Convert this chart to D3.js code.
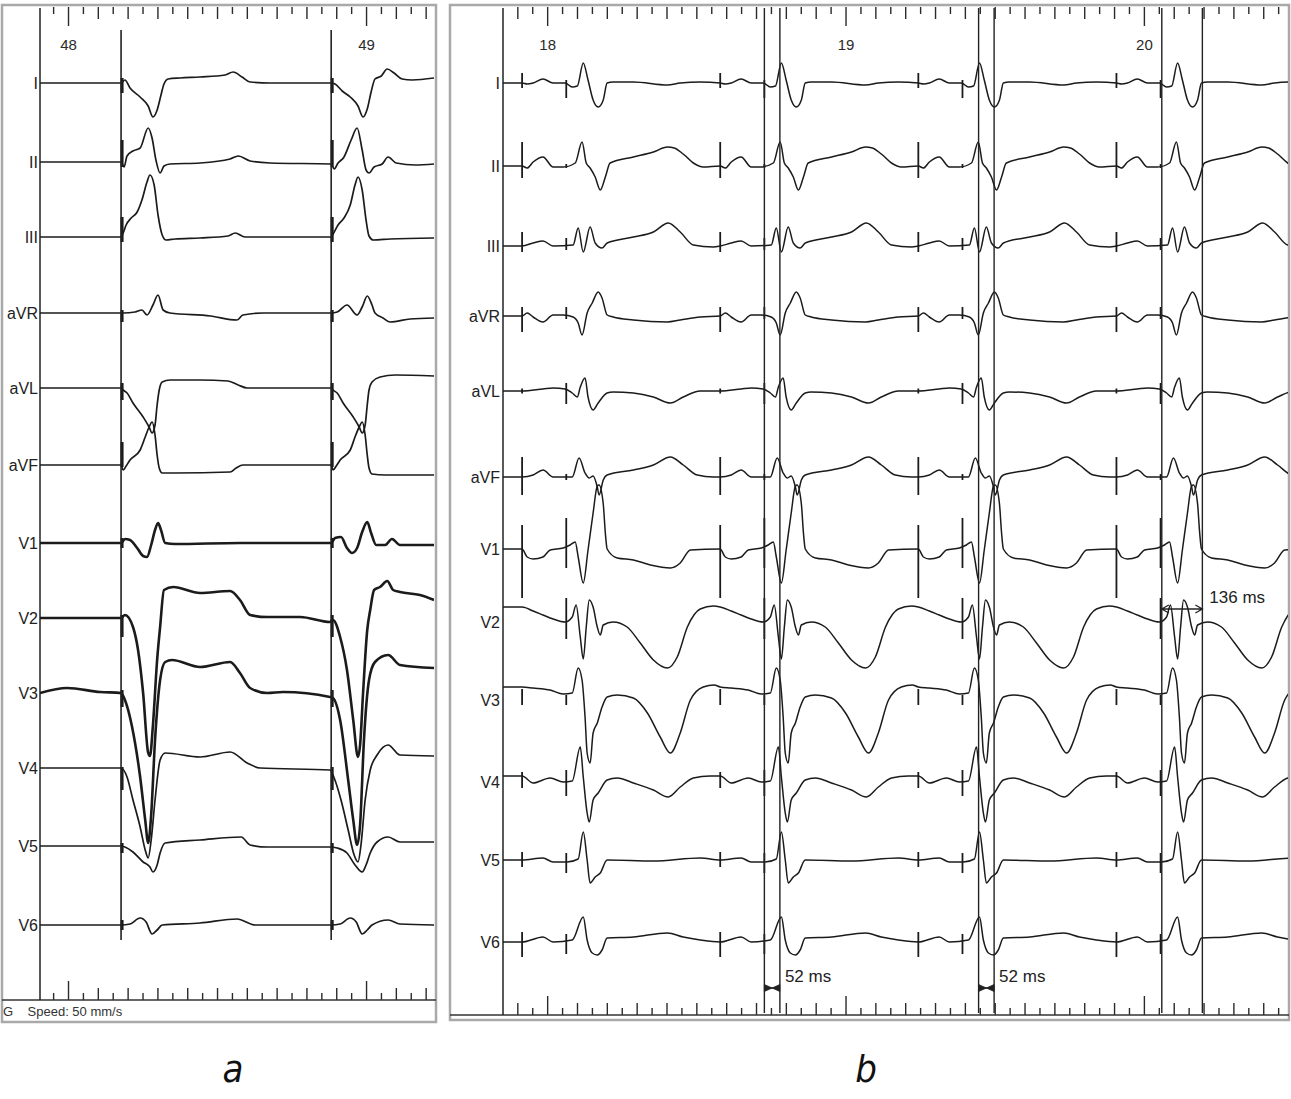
<!DOCTYPE html>
<html>
<head>
<meta charset="utf-8">
<script src="https://cdn.jsdelivr.net/npm/d3@7"></script>
<style>
  body { margin: 0; background: #fff; }
  svg { display: block; }
</style>
</head>
<body>
<svg width="1291" height="1099"></svg>
<script>
const leads = ['I', 'II', 'III', 'aVR', 'aVL', 'aVF', 'V1', 'V2', 'V3', 'V4', 'V5', 'V6'];

// ---- panel a: paced rhythm, time in ms after the first pacing spike, amplitude in mV
const spikesA = [48.178, 48.883];
const a_I = [[-272,0],[0,0],[13,0.06],[30,-0.10],[64,-0.28],[91,-0.46],[107,-0.68],[121,-0.54],[134,-0.24],[144,-0.02],[158,0.08],[198,0.10],[265,0.12],[349,0.16],[376,0.22],[406,0.12],[433,0.02],[500,0],[705,0],[718,-0.02],[742,-0.16],[769,-0.28],[795,-0.46],[812,-0.68],[826,-0.52],[839,-0.18],[852,0.08],[873,0.14],[893,0.28],[916,0.20],[943,0.08],[977,0.06],[1050,0.10]];
const a_II = [[-272,0],[0,0],[10,-0.10],[20,0.12],[40,0.22],[64,0.28],[91,0.68],[104,0.48],[117,0.04],[131,-0.22],[144,-0.08],[164,-0.04],[265,-0.02],[366,0.06],[393,0.12],[433,0.02],[500,-0.02],[705,-0.04],[715,-0.14],[728,-0.02],[748,0.10],[772,0.44],[792,0.68],[809,0.24],[822,-0.16],[832,-0.22],[849,-0.10],[876,-0.04],[896,0.10],[923,-0.02],[987,-0.06],[1050,-0.04]];
const a_III = [[-272,0],[0,0],[7,0.08],[17,0.24],[34,0.38],[54,0.50],[70,0.74],[87,1.10],[97,1.24],[111,1.04],[124,0.44],[138,0.04],[151,-0.06],[181,-0.04],[265,-0.02],[359,0.02],[383,0.08],[416,0],[705,0],[715,0.10],[728,0.24],[748,0.38],[769,0.64],[785,1.04],[795,1.20],[809,0.94],[822,0.34],[832,0.02],[846,-0.06],[903,-0.04],[1050,-0.02]];
const a_aVR = [[-272,0],[0,0],[7,0],[47,0.02],[70,0.06],[87,-0.04],[107,0.16],[124,0.36],[141,0.06],[164,0],[300,-0.06],[389,-0.14],[409,-0.04],[477,0],[705,0],[725,0.02],[758,0.16],[792,-0.04],[809,0.12],[826,0.34],[842,0.16],[852,0],[879,-0.10],[903,-0.18],[970,-0.12],[1050,-0.10]];
const a_aVL = [[-272,0],[0,0],[7,-0.04],[20,-0.10],[40,-0.30],[74,-0.58],[94,-0.78],[104,-0.90],[114,-0.74],[121,-0.34],[128,-0.04],[138,0.12],[164,0.16],[265,0.16],[359,0.14],[393,0.06],[423,0],[705,0],[711,-0.04],[725,-0.10],[745,-0.30],[779,-0.58],[799,-0.78],[809,-0.90],[819,-0.74],[826,-0.34],[832,-0.04],[842,0.12],[869,0.22],[920,0.26],[1050,0.24]];
const a_aVF = [[-272,0],[0,0],[7,-0.10],[17,-0.02],[30,0.10],[64,0.30],[81,0.56],[94,0.76],[104,0.86],[114,0.60],[121,0.20],[128,-0.06],[138,-0.16],[181,-0.16],[366,-0.14],[386,-0.06],[409,0],[705,0],[711,-0.10],[722,-0.02],[735,0.10],[769,0.30],[785,0.56],[799,0.76],[809,0.86],[819,0.60],[826,0.20],[832,-0.06],[842,-0.18],[886,-0.20],[1050,-0.20]];
const a_V1 = [[-272,0],[0,0],[13,0.08],[30,0.06],[54,-0.10],[74,-0.26],[87,-0.28],[101,-0.04],[114,0.26],[124,0.40],[134,0.26],[148,0],[181,-0.02],[399,0],[705,0],[718,0.10],[738,0.12],[758,-0.10],[775,-0.20],[792,-0.10],[809,0.22],[826,0.42],[839,0.20],[856,-0.04],[886,-0.04],[909,0.08],[936,-0.04],[1050,-0.04]];
const a_V2 = [[-272,0],[0,0],[13,0.06],[40,-0.18],[57,-0.64],[74,-1.50],[91,-2.70],[97,-2.76],[107,-2.14],[121,-0.84],[131,-0.18],[144,0.56],[175,0.62],[265,0.50],[366,0.54],[399,0.36],[433,0.06],[490,0.02],[601,0.02],[701,-0.08],[711,-0.04],[735,-0.38],[758,-1.04],[779,-2.04],[795,-2.78],[802,-2.54],[812,-1.50],[826,-0.24],[836,0.16],[849,0.56],[869,0.62],[893,0.74],[913,0.56],[936,0.52],[1003,0.46],[1050,0.36]];
const a_V3 = [[-272,0],[-181,0.10],[-70,0.02],[0,0],[13,-0.14],[37,-0.68],[64,-1.68],[81,-2.54],[91,-3.00],[101,-2.44],[114,-0.94],[131,0.26],[148,0.62],[171,0.66],[265,0.52],[366,0.62],[399,0.40],[433,0.10],[490,0],[544,0.02],[701,-0.08],[711,-0.10],[735,-0.54],[762,-1.74],[779,-2.54],[792,-3.04],[802,-2.64],[815,-0.94],[832,0.26],[852,0.62],[896,0.76],[936,0.56],[1050,0.50]];
const a_V4 = [[-272,0],[0,0],[20,-0.18],[40,-0.64],[64,-1.18],[81,-1.64],[91,-1.80],[101,-1.44],[114,-0.64],[131,0.16],[148,0.30],[265,0.22],[366,0.32],[423,0.10],[466,0],[701,-0.04],[715,-0.20],[738,-0.64],[762,-1.24],[782,-1.74],[795,-1.88],[805,-1.54],[819,-0.64],[836,-0.04],[859,0.26],[896,0.46],[936,0.26],[1050,0.24]];
const a_V5 = [[-272,0],[0,0],[13,-0.02],[40,-0.12],[74,-0.32],[97,-0.42],[107,-0.52],[121,-0.38],[131,-0.14],[148,0.06],[265,0.12],[403,0.18],[433,0.02],[490,-0.02],[701,-0.02],[725,-0.04],[758,-0.14],[785,-0.38],[809,-0.52],[822,-0.38],[836,-0.14],[859,0.08],[896,0.18],[936,0.08],[1050,0.08]];
const a_V6 = [[-272,0],[0,0],[30,0.02],[64,0.14],[84,0.06],[104,-0.18],[121,-0.10],[138,0],[265,0.04],[389,0.12],[450,0],[705,0],[735,0.02],[769,0.14],[789,0.06],[809,-0.18],[826,-0.10],[842,0],[896,0.10],[936,0.02],[1050,0]];
// pacing spike extent per lead [up, down] in mV
const spikeA = [[0.10,-0.20],[0.44,-0.10],[0.40,-0.10],[0.06,-0.18],[0.10,-0.24],[0.46,-0.04],[0.10,-0.10],[0.06,-0.38],[0.06,-0.28],[0.02,-0.44],[0.06,-0.14],[0.10,-0.10]];

// ---- panel b: dual-chamber pacing, one beat template per lead (ms after atrial spike, mV)
const beatsB = [17.916, 18.580, 19.244, 19.908];
const beatMs = 664;
const ventricularDelayMs = 148;
const b_I = [[0,0],[17,-0.02],[37,0],[70,0.08],[104,0],[144,0],[168,-0.08],[185,-0.06],[205,0.40],[221,0.06],[238,-0.34],[255,-0.48],[272,-0.34],[285,0],[305,0.02],[373,0.02],[487,-0.04],[530,0],[597,0.02]];
const b_II = [[0,0],[17,-0.04],[37,0.08],[70,0.18],[104,-0.02],[138,-0.02],[178,0.06],[201,0.48],[215,0.06],[228,-0.04],[245,-0.22],[262,-0.48],[279,-0.22],[295,0.06],[373,0.18],[440,0.28],[487,0.38],[510,0.36],[540,0.24],[574,0.06],[607,-0.02]];
const b_III = [[0,0],[37,0.06],[70,0.10],[104,0],[171,0.02],[188,0.36],[205,-0.12],[228,0.38],[245,0.06],[268,-0.04],[285,0.06],[373,0.18],[440,0.28],[490,0.46],[530,0.28],[574,0.02],[641,-0.02]];
const b_aVR = [[0,0],[17,0.06],[37,-0.02],[70,-0.12],[104,0.02],[138,0.02],[171,-0.02],[188,-0.14],[201,-0.38],[218,0.06],[235,0.26],[255,0.48],[268,0.36],[285,0.02],[305,-0.02],[373,-0.08],[487,-0.12],[530,-0.08],[597,-0.02]];
const b_aVL = [[0,0],[70,0.04],[104,0.06],[144,0.04],[168,-0.04],[185,-0.12],[195,0.08],[211,0.26],[221,-0.12],[238,-0.38],[255,-0.24],[285,-0.04],[305,-0.02],[373,-0.04],[440,-0.12],[497,-0.24],[540,-0.12],[597,0]];
const b_aVF = [[0,0],[37,0.04],[70,0.14],[104,0],[168,0],[191,0.38],[211,0.08],[225,-0.02],[238,0.02],[252,-0.20],[258,-0.36],[272,-0.06],[285,0.04],[373,0.14],[440,0.24],[497,0.40],[540,0.24],[587,0.04],[641,0]];
const b_V1 = [[0,0],[17,-0.16],[37,-0.20],[70,-0.16],[94,-0.02],[138,0.02],[161,0.08],[178,0.14],[188,-0.16],[205,-0.68],[221,-0.02],[238,0.72],[252,1.26],[258,1.28],[272,0.90],[279,0.32],[285,0],[319,-0.18],[373,-0.22],[430,-0.32],[497,-0.38],[530,-0.28],[564,-0.02]];
const b_V2 = [[0,0.30],[37,0.22],[70,0.14],[104,0.06],[144,0],[168,0.10],[181,0.34],[195,-0.30],[205,-0.74],[215,-0.10],[225,0.44],[238,0.30],[252,-0.10],[262,-0.26],[272,-0.06],[305,0],[352,-0.10],[396,-0.42],[440,-0.76],[487,-0.92],[520,-0.70],[554,-0.10],[597,0.26],[641,0.32]];
const b_V3 = [[0,0.26],[37,0.24],[94,0.20],[138,0.12],[168,0.14],[188,0.64],[201,0.40],[211,-0.34],[218,-1.06],[228,-1.26],[238,-0.66],[252,-0.46],[268,-0.14],[285,0.06],[319,0.10],[373,0.04],[420,-0.26],[463,-0.74],[497,-1.06],[530,-0.66],[564,0],[607,0.26],[644,0.30]];
const b_V4 = [[0,0.12],[37,-0.02],[94,0.08],[138,0],[168,0.02],[195,0.70],[205,0.10],[218,-0.62],[225,-0.80],[238,-0.36],[255,-0.22],[285,0.04],[319,0.08],[373,-0.02],[440,-0.16],[490,-0.30],[530,-0.10],[574,0.08],[630,0.12]];
const b_V5 = [[0,0],[70,0.04],[104,-0.04],[151,-0.04],[188,0.02],[205,0.56],[218,0],[228,-0.46],[245,-0.34],[262,-0.26],[285,0],[440,-0.02],[597,0.04]];
const b_V6 = [[0,0],[70,0.10],[104,0],[168,0.04],[205,0.50],[218,0.04],[235,-0.22],[252,-0.26],[268,-0.16],[285,0.08],[373,0.10],[487,0.18],[540,0.10],[597,0.04]];
const spikeAtrialB = [[0.20,-0.10],[0.48,-0.24],[0.28,-0.12],[0.18,-0.32],[0.05,-0.05],[0.40,-0.36],[0.48,-0.98],[0,0],[0.22,-0.10],[0.20,-0.12],[0.16,-0.14],[0.20,-0.30]];
const spikeVentB = [[0.06,-0.30],[0.04,-0.04],[0.16,-0.08],[0.18,-0.06],[0.16,-0.26],[0.06,-0.06],[0.62,-0.38],[0.48,-0.34],[0.10,-0.10],[0.24,-0.28],[0.14,-0.26],[0.16,-0.24]];

// calipers: first line (s) and measured width (ms)
const caliperStart = [18.728, 19.446, 20.060];
const caliperMs = [52, 52, 136];

const tracesA = [a_I, a_II, a_III, a_aVR, a_aVL, a_aVF, a_V1, a_V2, a_V3, a_V4, a_V5, a_V6];
const tracesB = [b_I, b_II, b_III, b_aVR, b_aVL, b_aVF, b_V1, b_V2, b_V3, b_V4, b_V5, b_V6];

// ---- layout
const gain = 50; // px per mV
const rowsA = [83, 162, 237, 313, 388, 465, 543, 618, 693, 768, 846, 925];
const rowsB = [83, 166, 246, 316, 391, 477, 549, 622, 700, 782, 860, 942];
const font = "'Liberation Sans', Arial, sans-serif";
const ink = '#1b1b1b';

const svg = d3.select('svg');
const xA = d3.scaleLinear().domain([47.906, 49.228]).range([40, 434]);
const xB = d3.scaleLinear().domain([17.852, 20.483]).range([503, 1288]);

const defs = svg.append('defs');
defs.append('clipPath').attr('id', 'clipA').append('rect')
  .attr('x', 40).attr('y', 0).attr('width', 394).attr('height', 1000);
defs.append('clipPath').attr('id', 'clipB').append('rect')
  .attr('x', 503).attr('y', 0).attr('width', 785).attr('height', 1015);
defs.append('clipPath').attr('id', 'clipFrameA').append('rect')
  .attr('x', 2).attr('y', 5).attr('width', 434).attr('height', 1017);

// frames
svg.append('rect').attr('x', 2).attr('y', 5).attr('width', 434).attr('height', 1017)
  .attr('fill', 'none').attr('stroke', '#a9a9a9').attr('stroke-width', 2.5);
svg.append('rect').attr('x', 450).attr('y', 5).attr('width', 839).attr('height', 1015)
  .attr('fill', 'none').attr('stroke', '#a9a9a9').attr('stroke-width', 2.5);

function ruler(x, y, dir, labels) {
  const [d0, d1] = x.domain();
  const steps = d3.range(Math.ceil(d0 * 20 - 1e-9), Math.floor(d1 * 20 + 1e-9) + 1);
  const sets = [
    { vals: steps.filter(i => i % 20 === 0), size: 19 },
    { vals: steps.filter(i => i % 2 === 0 && i % 20 !== 0), size: 12 },
    { vals: steps.filter(i => i % 2 !== 0), size: 7 }
  ];
  sets.forEach((s, k) => {
    const axis = (dir === 'down' ? d3.axisBottom(x) : d3.axisTop(x))
      .tickValues(s.vals.map(i => i / 20))
      .tickSize(s.size)
      .tickPadding(13)
      .tickFormat(k === 0 && labels ? d3.format('d') : '');
    const g = svg.append('g')
      .attr('transform', 'translate(0,' + y + ')')
      .call(axis)
      .attr('color', '#2a2a2a')
      .attr('font-size', 15)
      .attr('font-family', font);
    g.select('.domain').remove();
    g.selectAll('.tick line').attr('stroke-width', 1.4);
  });
}

ruler(xA, 7, 'down', true);
ruler(xB, 7, 'down', true);
ruler(xA, 1000, 'up', false);
ruler(xB, 1015, 'up', false);

svg.append('line').attr('x1', 2).attr('x2', 436).attr('y1', 1000).attr('y2', 1000)
  .attr('stroke', '#333').attr('stroke-width', 1.5);
svg.append('line').attr('x1', 450).attr('x2', 1289).attr('y1', 1015).attr('y2', 1015)
  .attr('stroke', '#333').attr('stroke-width', 1.5);

// recorder footer, cut by the frame as in the printout
svg.append('text').attr('x', 3).attr('y', 1016)
  .attr('clip-path', 'url(#clipFrameA)')
  .attr('font-family', font).attr('font-size', 13).attr('fill', '#333')
  .attr('xml:space', 'preserve')
  .text('G    Speed: 50 mm/s');

// vertical reference lines
function vline(x, y1, y2, w) {
  svg.append('line').attr('x1', x).attr('x2', x).attr('y1', y1).attr('y2', y2)
    .attr('stroke', '#222').attr('stroke-width', w);
}
vline(xA.range()[0], 8, 1000, 1.5);
vline(xB.range()[0], 8, 1015, 1.5);

// lead labels
function labels(rows, xr) {
  svg.append('g').selectAll('text').data(leads).join('text')
    .attr('x', xr).attr('y', (d, i) => rows[i]).attr('dy', '0.36em')
    .attr('text-anchor', 'end').attr('font-family', font).attr('font-size', 16)
    .attr('fill', '#222').text(d => d);
}
labels(rowsA, 38);
labels(rowsB, 500);

// traces panel a
const gA = svg.append('g').attr('clip-path', 'url(#clipA)');
tracesA.forEach((tr, i) => {
  const line = d3.line()
    .x(d => xA(spikesA[0] + d[0] / 1000))
    .y(d => rowsA[i] - d[1] * gain)
    .curve(d3.curveMonotoneX);
  gA.append('path').attr('d', line(tr)).attr('fill', 'none').attr('stroke', ink)
    .attr('stroke-width', (i >= 6 && i <= 8) ? 2.6 : 1.7).attr('stroke-linejoin', 'round');
  spikesA.forEach(t => {
    gA.append('line').attr('x1', xA(t) + 1).attr('x2', xA(t) + 1)
      .attr('y1', rowsA[i] - spikeA[i][0] * gain).attr('y2', rowsA[i] - spikeA[i][1] * gain)
      .attr('stroke', ink).attr('stroke-width', 3);
  });
});
spikesA.forEach(t => vline(xA(t), 30, 940, 1.6));

// traces panel b
const gB = svg.append('g').attr('clip-path', 'url(#clipB)');
tracesB.forEach((tpl, i) => {
  const pts = [[xB.domain()[0], tpl[0][1]]];
  beatsB.forEach(b0 => tpl.forEach(([ms, v]) => pts.push([b0 + ms / 1000, v])));
  pts.push([beatsB[beatsB.length - 1] + beatMs / 1000, tpl[0][1]]);
  const line = d3.line()
    .x(d => xB(d[0]))
    .y(d => rowsB[i] - d[1] * gain)
    .curve(d3.curveMonotoneX);
  gB.append('path').attr('d', line(pts)).attr('fill', 'none').attr('stroke', ink)
    .attr('stroke-width', 1.5).attr('stroke-linejoin', 'round');
  beatsB.forEach(b0 => {
    [[b0, spikeAtrialB[i]], [b0 + ventricularDelayMs / 1000, spikeVentB[i]]].forEach(([t, s]) => {
      if (s[0] === 0 && s[1] === 0) return;
      gB.append('line').attr('x1', xB(t)).attr('x2', xB(t))
        .attr('y1', rowsB[i] - s[0] * gain).attr('y2', rowsB[i] - s[1] * gain)
        .attr('stroke', ink).attr('stroke-width', 1.8);
    });
  });
});

// calipers
caliperStart.forEach((t, k) => {
  const x1 = xB(t), x2 = xB(t + caliperMs[k] / 1000);
  vline(x1, 8, 1013, 1.4);
  vline(x2, 8, 1013, 1.4);
  if (caliperMs[k] < 100) {
    const y = 988;
    svg.append('path')
      .attr('d', `M${x1},${y - 3.5}L${x2},${y + 3.5}L${x2},${y - 3.5}L${x1},${y + 3.5}Z`)
      .attr('fill', '#222').attr('stroke', '#222').attr('stroke-width', 0.8);
    svg.append('line').attr('x1', x1).attr('x2', x2).attr('y1', y).attr('y2', y)
      .attr('stroke', '#222').attr('stroke-width', 1.2);
    svg.append('text').attr('x', x2 + 5).attr('y', 982)
      .attr('font-family', font).attr('font-size', 17).attr('fill', '#222')
      .text(caliperMs[k] + ' ms');
  } else {
    const y = 609;
    svg.append('path')
      .attr('d', `M${x1 + 7},${y - 4}L${x1},${y}L${x1 + 7},${y + 4}M${x1},${y}L${x2},${y}M${x2 - 7},${y - 4}L${x2},${y}L${x2 - 7},${y + 4}`)
      .attr('fill', 'none').attr('stroke', '#222').attr('stroke-width', 1.3);
    svg.append('text').attr('x', x2 + 7).attr('y', 603)
      .attr('font-family', font).attr('font-size', 17).attr('fill', '#222')
      .text(caliperMs[k] + ' ms');
  }
});

// panel letters
svg.append('text').attr('x', 233).attr('y', 1082).attr('text-anchor', 'middle')
  .attr('font-family', "'Liberation Sans Narrow', 'DejaVu Sans Condensed', sans-serif")
  .attr('font-style', 'italic').attr('font-size', 38).attr('fill', '#111').text('a');
svg.append('text').attr('x', 866).attr('y', 1082).attr('text-anchor', 'middle')
  .attr('font-family', "'Liberation Sans Narrow', 'DejaVu Sans Condensed', sans-serif")
  .attr('font-style', 'italic').attr('font-size', 38).attr('fill', '#111').text('b');
</script>
</body>
</html>
